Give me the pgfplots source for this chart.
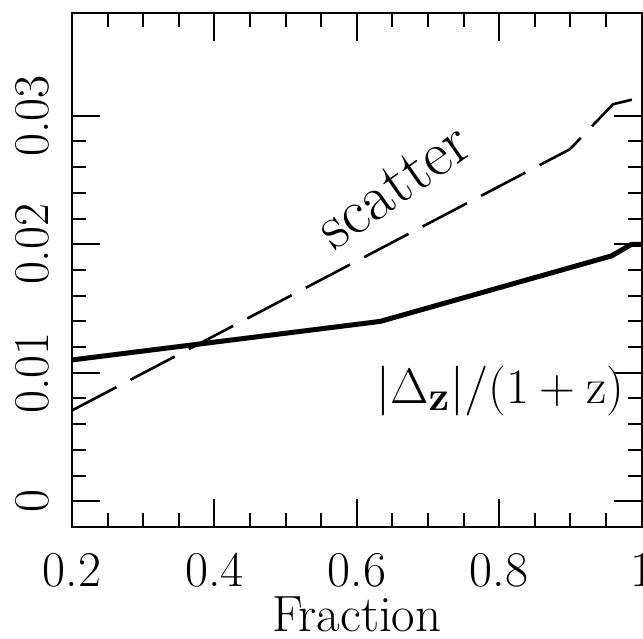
\documentclass[border=0pt]{standalone}
\usepackage{pgfplots}
\pgfplotsset{compat=1.18}
\begin{document}
\begin{tikzpicture}
\begin{axis}[name=ax,
  scale only axis, width=284.75pt, height=257pt,
  xmin=0.2, xmax=1, ymin=-0.002, ymax=0.038,
  xtick={0.2,0.4,0.6,0.8,1.0}, xticklabels={0.2,0.4,0.6,0.8,1},
  ytick={0,0.01,0.02,0.03}, yticklabels={0,0.01,0.02,0.03},
  scaled y ticks=false, scaled x ticks=false,
  minor x tick num=3, minor y tick num=4,
  tick pos=both, tick align=inside,
  major tick length=14pt, minor tick length=7pt,
  every tick/.style={line width=1pt, black},
  axis line style={line width=1pt},
  tick label style={font=\fontsize{25}{30}\selectfont, inner sep=0pt},
  xticklabel style={anchor=north, yshift=-13pt},
  yticklabel style={rotate=90, anchor=south, yshift=11pt},
  xlabel={Fraction},
  xlabel style={font=\fontsize{25.5}{30}\selectfont, inner sep=0pt, at={(axis description cs:0.5,0)}, anchor=base, yshift=-52pt},
]
\addplot[black, line width=2.5pt, line join=round] coordinates {
  (0.2,0.0110) (0.633,0.0140) (0.958,0.0191) (0.986,0.0200) (1.0,0.0200)
};
\addplot[black, line width=1.3pt, line join=round, dash pattern=on 25pt off 8pt] coordinates {
  (0.2,0.00707) (0.8995,0.0274) (0.960,0.0309) (0.990,0.0313) (1.0,0.0313)
};
\node[rotate=35, font=\fontsize{32}{36}\selectfont, inner sep=0pt] at (axis cs:0.652,0.0245) {scatter};
\node[anchor=east, inner sep=0pt, font=\fontsize{30.5}{36}\selectfont] at (axis cs:0.977,0.0086) {$|\Delta_{\mathbf{z}}|/(1+\mathrm{z})$};
\end{axis}
\pgfresetboundingbox
\useasboundingbox ([shift={(-36pt,-55.5pt)}]ax.south west) rectangle ([shift={(0.75pt,6.5pt)}]ax.north east);
\end{tikzpicture}
\end{document}
